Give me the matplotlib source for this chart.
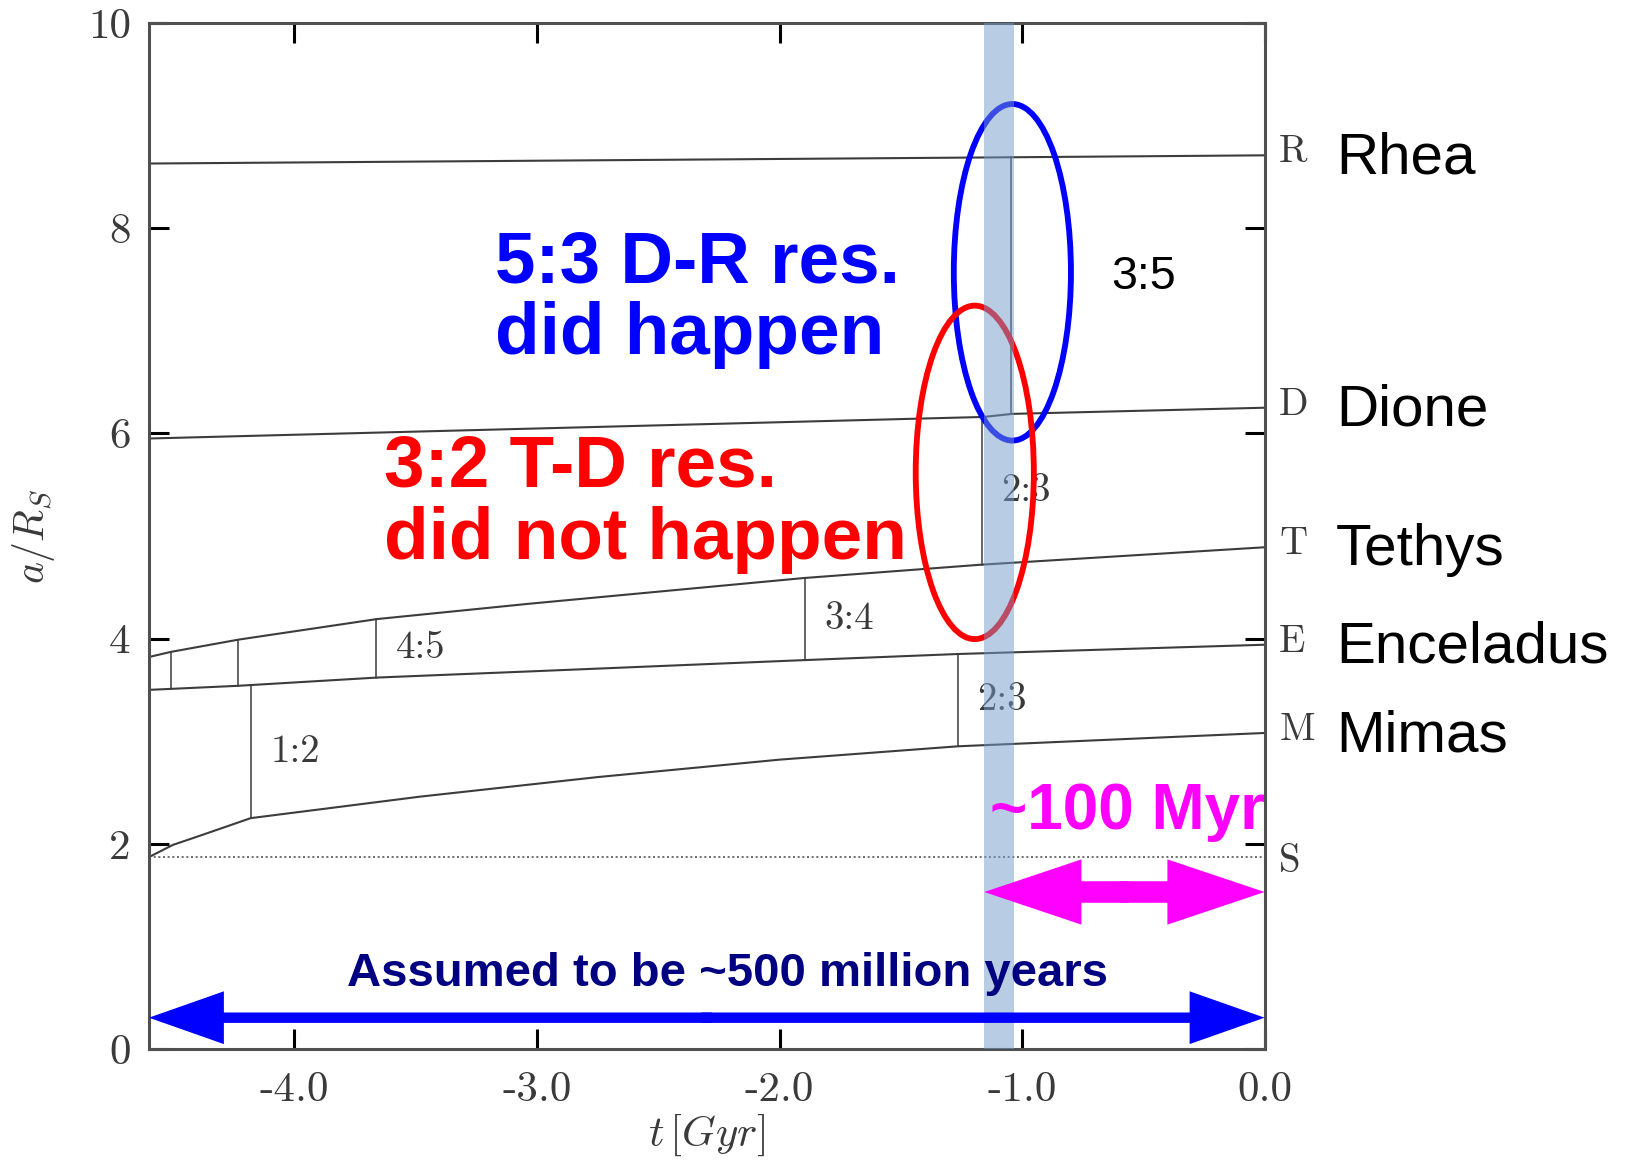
import numpy as np
import matplotlib.pyplot as plt
from matplotlib.patches import Ellipse, FancyArrowPatch, ArrowStyle

plt.rcParams['mathtext.fontset'] = 'cm'

SANS = 'Liberation Sans'
SERIF = 'cmr10'
LINE = '#3c3c3c'
GREY_TXT = '#3a3a3a'

# semi-major axis (Saturn radii) of each moon against time (Gyr)
t_mimas = [-4.6, -4.5, -4.4, -4.18, -3.48, -2.75, -2.0, -1.265, 0.0]
a_mimas = [1.87, 1.99, 2.07, 2.25, 2.46, 2.65, 2.82, 2.95, 3.08]
t_encel = [-4.6, -4.23, -3.66, -3.03, -1.90, -1.26, 0.0]
a_encel = [3.50, 3.54, 3.62, 3.68, 3.79, 3.85, 3.94]
t_tethys = [-4.6, -4.51, -4.23, -3.66, -3.03, -1.90, -1.17, 0.0]
a_tethys = [3.82, 3.87, 3.99, 4.19, 4.34, 4.59, 4.72, 4.89]
t_dione = [-4.6, -1.16, -1.04, 0.0]
a_dione = [5.95, 6.16, 6.19, 6.25]
t_rhea = [-4.6, -1.1, 0.0]
a_rhea = [8.63, 8.69, 8.71]
a_saturn = 1.87

moon_keys = ['M', 'E', 'T', 'D', 'R']
moon_names = ['Mimas', 'Enceladus', 'Tethys', 'Dione', 'Rhea']
tracks = {
    'M': (t_mimas, a_mimas),
    'E': (t_encel, a_encel),
    'T': (t_tethys, a_tethys),
    'D': (t_dione, a_dione),
    'R': (t_rhea, a_rhea),
}

# resonance crossings: time, inner moon, outer moon, ratio
res_time = [-4.51, -4.232, -4.18, -3.663, -1.897, -1.264, -1.165, -1.044]
res_inner = ['E', 'E', 'M', 'E', 'E', 'M', 'T', 'D']
res_outer = ['T', 'T', 'E', 'T', 'T', 'E', 'D', 'R']
res_ratio = ['', '', '1:2', '4:5', '3:4', '2:3', '2:3', '3:5']

x_ticks = [-4.0, -3.0, -2.0, -1.0, 0.0]
x_ticklabels = ['-4.0', '-3.0', '-2.0', '-1.0', '0.0']
y_ticks = [0, 2, 4, 6, 8, 10]

# highlighted epoch and the two age spans
band_t = (-1.156, -1.035)
span_assumed = (-4.6, 0.0)
span_recent = (-1.156, 0.0)
y_assumed = 0.305
y_recent = 1.53

fig = plt.figure(figsize=(16.36, 11.6), dpi=100)
ax = fig.add_axes([0.091, 0.0957, 0.682, 0.8845])
ax.set_xlim(-4.6, 0.0)
ax.set_ylim(0, 10)

for key in moon_keys:
    t, a = tracks[key]
    ax.plot(t, a, color=LINE, lw=1.5, zorder=2)
ax.axhline(a_saturn, color='#555555', lw=1.2, ls=(0, (1.2, 1.6)), zorder=2)

for t, lo, hi, lab in zip(res_time, res_inner, res_outer, res_ratio):
    y0 = np.interp(t, *tracks[lo])
    y1 = np.interp(t, *tracks[hi])
    ax.plot([t, t], [y0, y1], color=LINE, lw=1.1, zorder=2)
    if lab == '3:5':
        ax.text(t + 0.41, (y0 + y1) / 2 + 0.08, lab, fontfamily=SANS, fontsize=33.5,
                ha='left', va='center', zorder=6)
    elif lab:
        ax.text(t + 0.08, (y0 + y1) / 2, lab, fontfamily=SERIF, fontsize=28,
                color=GREY_TXT, ha='left', va='center', zorder=2.5)

ax.add_patch(Ellipse((-1.040, 7.57), 0.483, 3.28, fill=False, ec='#0000ff', lw=4.2, zorder=3))
ax.add_patch(Ellipse((-1.195, 5.62), 0.487, 3.25, fill=False, ec='#ff0000', lw=4.2, zorder=3))

ax.axvspan(*band_t, color='#739bcb', alpha=0.5, lw=0, zorder=4)


def double_arrow(x0, x1, y, color, head_len, head_w, tail_w):
    mid = 0.5 * (x0 + x1)
    style = ArrowStyle.Simple(head_length=head_len, head_width=head_w, tail_width=tail_w)
    for start, end in ((mid + 0.02, x0), (mid - 0.02, x1)):
        ax.add_patch(FancyArrowPatch((start, y), (end, y), arrowstyle=style, color=color,
                                     lw=0, shrinkA=0, shrinkB=0, zorder=5))


double_arrow(*span_assumed, y_assumed, '#0000ff', 54, 38, 7.5)
double_arrow(*span_recent, y_recent, '#ff00ff', 70, 47, 15.5)

ax.text(-2.216, 0.61, 'Assumed to be ~500 million years', fontfamily=SANS, fontweight='bold',
        fontsize=34, color='#000080', ha='center', va='baseline', zorder=6)
ax.text(0.0, 2.14, '~100 Myr', fontfamily=SANS, fontweight='bold', fontsize=46,
        color='#ff00ff', ha='right', va='baseline', zorder=6)
ax.text(-3.173, 6.77, '5:3 D-R res.\ndid happen', fontfamily=SANS, fontweight='bold',
        fontsize=52.5, color='#0000ff', ha='left', va='baseline', linespacing=1.08, zorder=6)
ax.text(-3.63, 4.78, '3:2 T-D res.\ndid not happen', fontfamily=SANS, fontweight='bold',
        fontsize=52.5, color='#ff0000', ha='left', va='baseline', linespacing=1.08, zorder=6)

# moon initials and names on the right
ytr = ax.get_yaxis_transform()
for key, name in zip(moon_keys, moon_names):
    a_end = tracks[key][1][-1]
    ax.text(1.013, a_end + 0.03, key, transform=ytr, fontfamily=SERIF, fontsize=28,
            color=GREY_TXT, ha='left', va='center', clip_on=False)
    ax.text(1.064, a_end - 0.03, name, transform=ytr, fontfamily=SANS, fontsize=42,
            ha='left', va='center', clip_on=False)
ax.text(1.013, a_saturn - 0.05, 'S', transform=ytr, fontfamily=SERIF, fontsize=28,
        color=GREY_TXT, ha='left', va='center', clip_on=False)

ax.set_xticks(x_ticks, labels=x_ticklabels)
ax.set_yticks(y_ticks)
ax.tick_params(direction='in', length=14.5, width=2.2, color='black', top=True, right=True,
               labelsize=31, labelcolor=GREY_TXT, labelfontfamily=SERIF)
ax.tick_params(axis='x', pad=16)
ax.tick_params(axis='y', pad=13)
for sp in ax.spines.values():
    sp.set_color('#505050')
    sp.set_linewidth(2.2)

ax.set_xlabel(r'$t\,[Gyr]$', fontsize=31, color=GREY_TXT)
ax.set_ylabel(r'$a/R_S$', fontsize=30, color=GREY_TXT)
ax.xaxis.set_label_coords(0.5, -0.062)
ax.yaxis.set_label_coords(-0.082, 0.5)

fig.savefig('out.png', dpi=100)
